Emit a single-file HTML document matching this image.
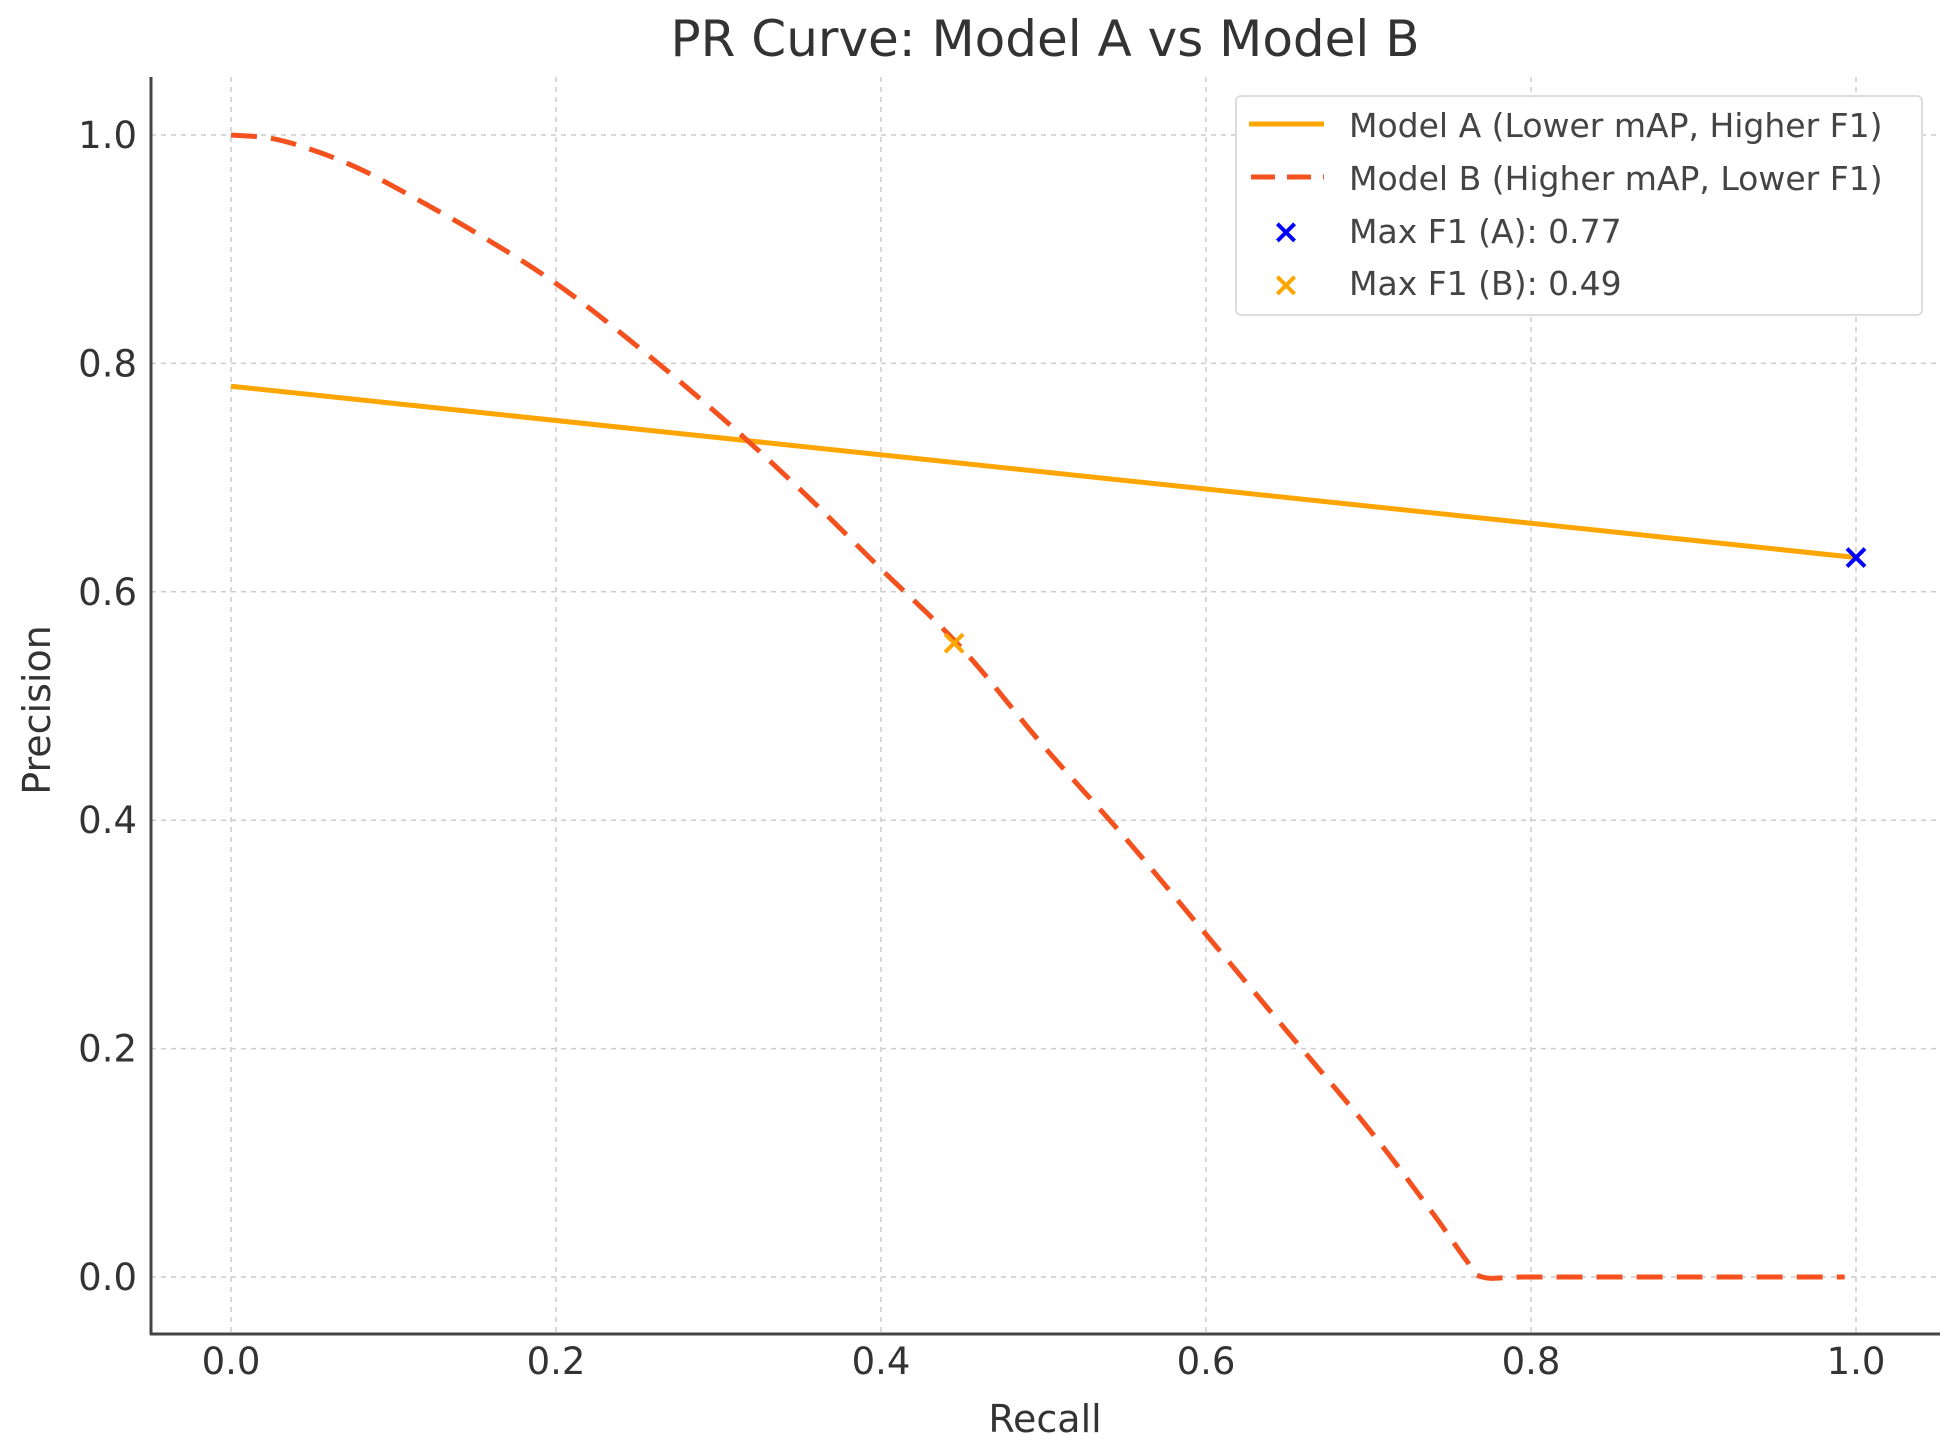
<!DOCTYPE html>
<html><head><meta charset="utf-8"><style>
html,body{margin:0;padding:0;background:#fff;}
svg{display:block;font-family:"DejaVu Sans","Liberation Sans",sans-serif;}
</style></head><body>
<svg id="chart" width="1948" height="1446" viewBox="0 0 1948 1446" xmlns="http://www.w3.org/2000/svg">
<text x="1045" y="56" text-anchor="middle" font-size="50" fill="#333">PR Curve: Model A vs Model B</text>
<g id="grid"></g>
<g id="series"></g>
<line x1="151" y1="77" x2="151" y2="1335" stroke="#444" stroke-width="3"/>
<line x1="150" y1="1334" x2="1940" y2="1334" stroke="#444" stroke-width="3"/>
<g id="ticks"></g>
<text x="1045" y="1432" text-anchor="middle" font-size="38" fill="#333">Recall</text>
<text transform="translate(50,710) rotate(-90)" text-anchor="middle" font-size="38" fill="#333">Precision</text>
<g>
<rect x="1236" y="96" width="686" height="219" rx="5" fill="#fff" fill-opacity="0.9" stroke="#ddd" stroke-width="2"/>
<g>
<line x1="1249" y1="124" x2="1324" y2="124" stroke="#FFA500" stroke-width="5"/>
<text x="1349" y="137" font-size="33" fill="#444">Model A (Lower mAP, Higher F1)</text></g>
<g>
<line x1="1251" y1="177" x2="1324" y2="177" stroke="#F4511E" stroke-width="5" stroke-dasharray="24,12"/>
<text x="1349" y="190" font-size="33" fill="#444">Model B (Higher mAP, Lower F1)</text></g>
<g>
<text x="1286" y="243" font-size="34" fill="#0000FF" text-anchor="middle" font-weight="bold">×</text>
<text x="1349" y="243" font-size="33" fill="#444">Max F1 (A): 0.77</text></g>
<g>
<text x="1286" y="296" font-size="34" fill="#FFA500" text-anchor="middle" font-weight="bold">×</text>
<text x="1349" y="295" font-size="33" fill="#444">Max F1 (B): 0.49</text></g>
</g>
</svg>
<script>
const xTicks = [0, 0.2, 0.4, 0.6, 0.8, 1.0];
const yTicks = [0, 0.2, 0.4, 0.6, 0.8, 1.0];
const recallA = [0, 1.0];
const precisionA = [0.78, 0.63];
const recallB = [0,0.025,0.05,0.075,0.1,0.15,0.2,0.25,0.3,0.35,0.4,0.45,0.5,0.55,0.6,0.65,0.7,0.74,0.76,0.77,0.8,0.9,0.993];
const precisionB = [1.0,0.997,0.987,0.973,0.955,0.915,0.87,0.815,0.755,0.69,0.62,0.55,0.465,0.385,0.30,0.215,0.13,0.055,0.015,0,0,0,0];
const maxF1A = [1.0, 0.63];
const maxF1B = [0.445, 0.555];

const NS = "http://www.w3.org/2000/svg";
const X = r => 231 + r * 1625;
const Y = v => 1277 - v * 1142;
function mk(tag, attrs, parent){const e=document.createElementNS(NS,tag);for(const k in attrs)e.setAttribute(k,attrs[k]);parent.appendChild(e);return e;}
const grid=document.getElementById('grid'), ticks=document.getElementById('ticks'), series=document.getElementById('series');
xTicks.forEach(t=>{
  const g=mk('line',{x1:X(t),x2:X(t),y1:77,y2:1334,stroke:'#ccc','stroke-width':1.5,'stroke-dasharray':'5,5'},grid);
  
  
  const tx=mk('text',{x:X(t),y:1374,'text-anchor':'middle','font-size':37,fill:'#333'},ticks);
  tx.textContent=t.toFixed(1);
  
  
});
yTicks.forEach(t=>{
  const g=mk('line',{x1:151,x2:1940,y1:Y(t),y2:Y(t),stroke:'#ccc','stroke-width':1.5,'stroke-dasharray':'5,5'},grid);
  
  
  const tx=mk('text',{x:137,y:Y(t)+13,'text-anchor':'end','font-size':37,fill:'#333'},ticks);
  tx.textContent=t.toFixed(1);
  
  
});
function smoothPath(xs, ys){
  const P = xs.map((r,i)=>[X(r),Y(ys[i])]);
  let d='M'+P[0][0]+','+P[0][1];
  const t=0.35;
  for(let i=0;i<P.length-1;i++){
    const p0=P[Math.max(0,i-1)], p1=P[i], p2=P[i+1], p3=P[Math.min(P.length-1,i+2)];
    const c1=[p1[0]+(p2[0]-p0[0])*t/2, p1[1]+(p2[1]-p0[1])*t/2];
    const c2=[p2[0]-(p3[0]-p1[0])*t/2, p2[1]-(p3[1]-p1[1])*t/2];
    d+=' C'+c1[0]+','+c1[1]+' '+c2[0]+','+c2[1]+' '+p2[0]+','+p2[1];
  }
  return d;
}
const pA=mk('polyline',{points:recallA.map((r,i)=>X(r)+','+Y(precisionA[i])).join(' '),fill:'none',stroke:'#FFA500','stroke-width':5},series);


const pB=mk('path',{d:smoothPath(recallB,precisionB),fill:'none',stroke:'#F4511E','stroke-width':5,'stroke-dasharray':'26,14','stroke-linejoin':'round'},series);


function cross(p,color,name){
  const cx=X(p[0]), cy=Y(p[1]), s=9;
  const g=mk('g',{stroke:color,'stroke-width':4},series);
  
  
  mk('line',{x1:cx-s,y1:cy-s,x2:cx+s,y2:cy+s},g);
  mk('line',{x1:cx-s,y1:cy+s,x2:cx+s,y2:cy-s},g);
}
cross(maxF1A,'#0000FF','max-f1-a-marker');
cross(maxF1B,'#FFA500','max-f1-b-marker');
</script>
</body></html>
